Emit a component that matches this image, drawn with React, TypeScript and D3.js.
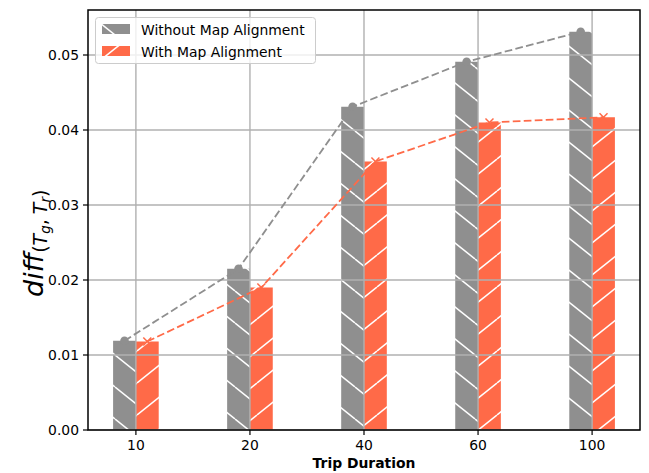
import React from 'react';
import * as d3 from 'd3';

const categories = ['10', '20', '40', '60', '100'];
const withoutAlign = [0.0119, 0.0215, 0.0431, 0.0491, 0.0531];
const withAlign = [0.0118, 0.019, 0.0358, 0.041, 0.0417];
const yTicks = [0, 0.01, 0.02, 0.03, 0.04, 0.05];
const seriesNames = ['Without Map Alignment', 'With Map Alignment'];

const W = 649;
const H = 473;
const L = 88, R = 640, T = 10, B = 430;
const GRAY = '#8f8f8f';
const ORANGE = '#ff6a48';
const FONT = 'DejaVu Sans';

export default function App() {
  const x = d3.scaleLinear().domain([-0.42, 4.42]).range([L, R]);
  const y = d3.scaleLinear().domain([0, 0.056]).range([B, T]);
  const bw = 0.2;
  const idx = categories.map((_, i) => i);
  const line = d3.line<number>().x((d) => d[0]).y((d) => d[1]);
  const grayPts = idx.map((i) => [x(i - bw / 2), y(withoutAlign[i])] as [number, number]);
  const orPts = idx.map((i) => [x(i + bw / 2), y(withAlign[i])] as [number, number]);
  const pw = 40, ph = 32;
  return (
    <svg width={W} height={H} style={{ position: 'absolute', left: 0, top: 0 }} fontFamily={FONT}>
      <defs>
        <pattern id="hb" patternUnits="userSpaceOnUse" width={pw} height={ph} x={115} y={355}>
          <rect width={pw} height={ph} fill={GRAY} />
          {[-1, 0, 1].map((n) => (
            <line key={n} x1={0} y1={n * ph} x2={pw} y2={ph + n * ph} stroke="white" strokeWidth={1.5} />
          ))}
        </pattern>
        <pattern id="hf" patternUnits="userSpaceOnUse" width={pw} height={ph} x={137} y={383}>
          <rect width={pw} height={ph} fill={ORANGE} />
          {[-1, 0, 1].map((n) => (
            <line key={n} x1={0} y1={ph + n * ph} x2={pw} y2={n * ph} stroke="white" strokeWidth={1.5} />
          ))}
        </pattern>
      </defs>
      <rect x={0} y={0} width={W} height={H} fill="white" />
      {idx.map((i) => (
        <g key={i}>
          <rect x={x(i - bw)} y={y(withoutAlign[i])} width={x(i) - x(i - bw)} height={B - y(withoutAlign[i])} fill="url(#hb)" />
          <rect x={x(i)} y={y(withAlign[i])} width={x(i + bw) - x(i)} height={B - y(withAlign[i])} fill="url(#hf)" />
        </g>
      ))}
      {yTicks.map((t) => (
        <line key={'gy' + t} x1={L} x2={R} y1={y(t)} y2={y(t)} stroke="#b0b0b0" strokeWidth={1.4} />
      ))}
      {idx.map((i) => (
        <line key={'gx' + i} x1={x(i)} x2={x(i)} y1={T} y2={B} stroke="#b0b0b0" strokeWidth={1.4} />
      ))}
      <path d={line(grayPts) || ''} fill="none" stroke={GRAY} strokeWidth={1.8} strokeDasharray="7.7,3.3" />
      <path d={line(orPts) || ''} fill="none" stroke={ORANGE} strokeWidth={1.8} strokeDasharray="7.7,3.3" />
      {grayPts.map((p, i) => (
        <circle key={'c' + i} cx={p[0]} cy={p[1]} r={4.3} fill={GRAY} />
      ))}
      {orPts.map((p, i) => (
        <g key={'x' + i} stroke={ORANGE} strokeWidth={1.5}>
          <line x1={p[0] - 4} y1={p[1] - 4} x2={p[0] + 4} y2={p[1] + 4} />
          <line x1={p[0] - 4} y1={p[1] + 4} x2={p[0] + 4} y2={p[1] - 4} />
        </g>
      ))}
      <rect x={L} y={T} width={R - L} height={B - T} fill="none" stroke="black" strokeWidth={1.5} />
      {yTicks.map((t) => (
        <g key={'yt' + t}>
          <line x1={L - 5} x2={L} y1={y(t)} y2={y(t)} stroke="black" strokeWidth={1.2} />
          <text x={L - 9} y={y(t) + 5} textAnchor="end" fontSize={13.9}>{t.toFixed(2)}</text>
        </g>
      ))}
      {idx.map((i) => (
        <g key={'xt' + i}>
          <line x1={x(i)} x2={x(i)} y1={B} y2={B + 5} stroke="black" strokeWidth={1.2} />
          <text x={x(i)} y={B + 20} textAnchor="middle" fontSize={13.9}>{categories[i]}</text>
        </g>
      ))}
      <text x={(L + R) / 2} y={468} textAnchor="middle" fontSize={13.9} fontWeight="bold">Trip Duration</text>
      <text transform={`translate(43,297) rotate(-90)`} fontSize={27}>
        <tspan fontStyle="italic">diff</tspan>
        <tspan fontSize={19} dy={4}>(</tspan>
        <tspan fontSize={19} fontStyle="italic">T</tspan>
        <tspan fontSize={13.5} fontStyle="italic" dy={3}>g</tspan>
        <tspan fontSize={19} dy={-3}>,</tspan>
        <tspan fontSize={19} fontStyle="italic" dx={5}>T</tspan>
        <tspan fontSize={13.5} fontStyle="italic" dy={3}>r</tspan>
        <tspan fontSize={19} dy={-3}>)</tspan>
      </text>
      <g>
        <rect x={95.5} y={17.5} width={220} height={46} rx={3} fill="white" fillOpacity={0.8} stroke="#cccccc" strokeWidth={1} />
        {seriesNames.map((s, k) => (
          <g key={s}>
            <rect x={102} y={24 + k * 22} width={28} height={10} fill={k === 0 ? 'url(#hb)' : 'url(#hf)'} />
            <text x={141} y={34.5 + k * 22} fontSize={13.9}>{s}</text>
          </g>
        ))}
      </g>
    </svg>
  );
}
